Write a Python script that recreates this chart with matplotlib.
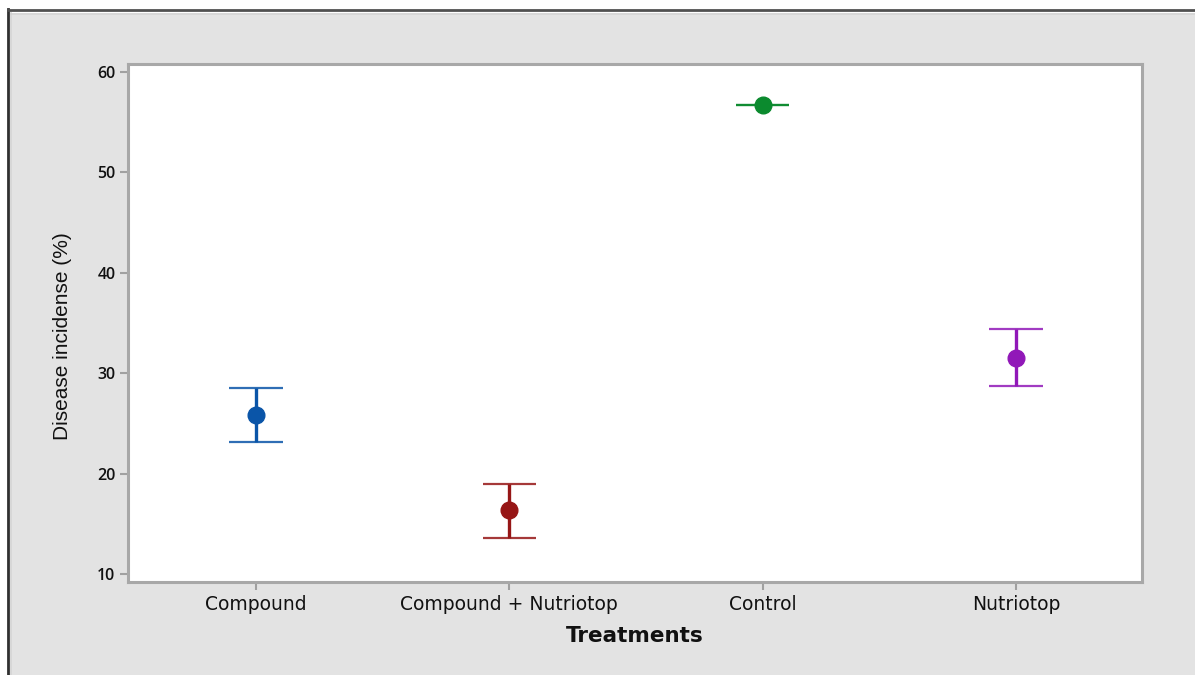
import matplotlib
matplotlib.use("Agg")
import matplotlib.pyplot as plt
from matplotlib.patches import Rectangle
from matplotlib.lines import Line2D

# Treatment means with lower / upper interval limits (Disease incidence, %)
treatments = ["Compound", "Compound + Nutriotop", "Control", "Nutriotop"]
means = [25.8, 16.4, 56.7, 31.5]
lower = [23.1, 13.6, 56.7, 28.7]
upper = [28.5, 19.0, 56.7, 34.4]
colors = ["#0a55a8", "#961616", "#0b8a2e", "#9118b8"]
yticks = [10, 20, 30, 40, 50, 60]

W, H, DPI = 1195, 675, 100
fig = plt.figure(figsize=(W / DPI, H / DPI), dpi=DPI, facecolor="white")

# Gray panel with a dark frame line
fig.patches.append(Rectangle((12 / W, 0), 1 - 12 / W, 1 - 15 / H,
                             transform=fig.transFigure, facecolor="#e3e3e3",
                             edgecolor="none", zorder=-10))
frame = [
    ([8 / W, 8 / W], [0, 1 - 9 / H], "#303030", 2.0),
    ([8 / W, 1], [1 - 10 / H, 1 - 10 / H], "#505050", 2.0),
    ([11 / W, 11 / W], [0, 1 - 13 / H], "#d0d0d0", 1.2),
    ([11 / W, 1], [1 - 14 / H, 1 - 14 / H], "#d0d0d0", 1.2),
]
for xs, ys, c, lw in frame:
    fig.lines.append(Line2D(xs, ys, transform=fig.transFigure, color=c, lw=lw, zorder=-5))

left, right, top, bottom = 128, 1142, 64, 582
ax = fig.add_axes([left / W, 1 - bottom / H, (right - left) / W, (bottom - top) / H])
ax.set_zorder(5)
ax.set_facecolor("white")

x = list(range(1, len(treatments) + 1))
for xi, m, lo, hi, c in zip(x, means, lower, upper, colors):
    ax.vlines(xi, lo, hi, color=c, lw=2.4, zorder=2)
    ax.hlines([lo, hi], xi - 0.105, xi + 0.105, color=c, lw=1.6, alpha=0.85, zorder=2)
    ax.plot(xi, m, "o", color=c, ms=12, zorder=3)

ax.set_xlim(0.495, 4.497)
ax.set_ylim(9.2, 60.8)
ax.set_xticks(x)
ax.set_xticklabels(treatments)
ax.set_yticks(yticks)

for s in ax.spines.values():
    s.set_color("#a8a8a8")
    s.set_linewidth(2.2)

ax.tick_params(axis="both", colors="#a0a0a0", length=6, width=1.5, direction="out")
for lab in ax.get_xticklabels():
    lab.set_color("#111111")
    lab.set_fontsize(13.5)
    lab.set_family("DejaVu Sans")
for lab in ax.get_yticklabels():
    lab.set_color("#111111")
    lab.set_fontsize(11.5)
    lab.set_family("Open Sans")
    lab.set_fontweight("semibold")
ax.tick_params(axis="x", pad=3)
ax.tick_params(axis="y", pad=3)

ax.set_xlabel("Treatments", fontsize=15.5, fontweight="bold", family="DejaVu Sans",
              color="#111111", labelpad=9)
fig.text(63 / W, 1 - 336 / H, "Disease incidense (%)", rotation=90, ha="center",
         va="center", fontsize=15, family="Liberation Sans", color="#111111")

fig.savefig("out.png", dpi=DPI, facecolor="white")
